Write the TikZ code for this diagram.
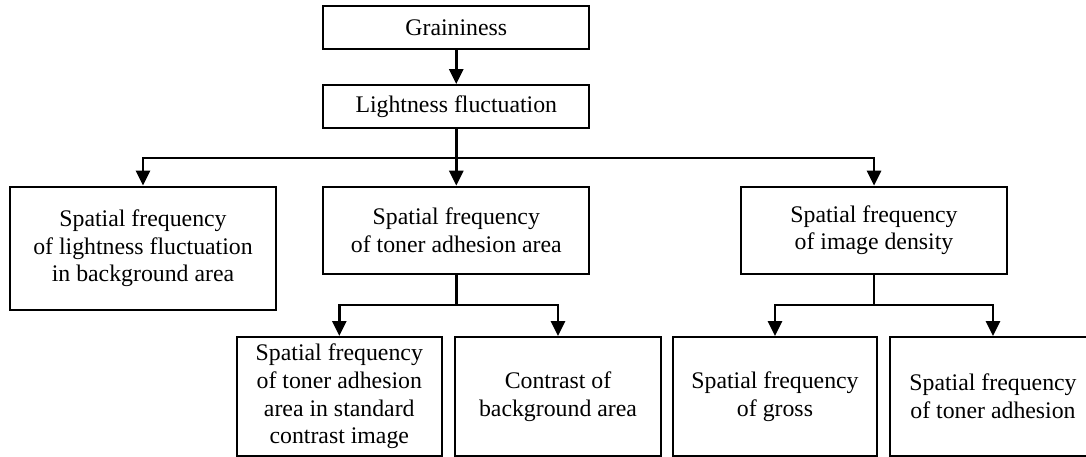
\documentclass[tikz,border=0pt]{standalone}
\usepackage{fontspec}
\setmainfont{Liberation Serif}
\usetikzlibrary{arrows.meta}
\begin{document}
\begin{tikzpicture}[x=1pt,y=-1pt,
  box/.style={draw=black, line width=2pt, fill=white, inner sep=0pt, align=center,
    font=\fontsize{23.8}{27.7}\selectfont},
  arr/.style={line width=2.8pt, -{Triangle[width=14pt,length=15pt]}},
  ln/.style={line width=2.8pt}]
\useasboundingbox (0,0) rectangle (1086,456);
\clip (0,0) rectangle (1086,456);
\node[box, minimum width=266pt, minimum height=43.3pt] (g) at (456.3,27.7) {Graininess};
\node[box, minimum width=266pt, minimum height=43.3pt] (l) at (456.3,106.7) {Lightness fluctuation};
\node[box, minimum width=266pt, minimum height=123.3pt] (s1) at (143,248.3)
  {Spatial frequency\\of lightness fluctuation\\in background area};
\node[box, minimum width=266pt, minimum height=87.3pt] (s2) at (456.3,230.3)
  {Spatial frequency\\of toner adhesion area};
\node[box, minimum width=266pt, minimum height=87.3pt] (s3) at (874,230.3)
  {Spatial frequency\\of image density};
\node[box, minimum width=205pt, minimum height=119pt] (a) at (339.3,396.5)
  {Spatial frequency\\of toner adhesion\\area in standard\\contrast image};
\node[box, minimum width=206pt, minimum height=119pt] (b) at (558,396.5)
  {Contrast of\\background area};
\node[box, minimum width=204pt, minimum height=119pt] (c) at (775,396.5)
  {Spatial frequency\\of gross};
\node[box, minimum width=206pt, minimum height=119pt] (d) at (993,396.5)
  {Spatial frequency\\of toner adhesion};
\coordinate (j1) at (456.3,158);
\coordinate (j2) at (456.3,305);
\coordinate (j3) at (874,305);
\draw[arr] (g) -- (l);
\draw[arr] (l) -- (s2);
\draw[arr] (j1) -| (s1.north);
\draw[arr] (j1) -| (s3.north);
\draw[ln] (s2.south) -- (j2);
\draw[arr] (j2) -| (a.north);
\draw[arr] (j2) -| (b.north);
\draw[ln] (s3.south) -- (j3);
\draw[arr] (j3) -| (c.north);
\draw[arr] (j3) -| (d.north);
\end{tikzpicture}
\end{document}
